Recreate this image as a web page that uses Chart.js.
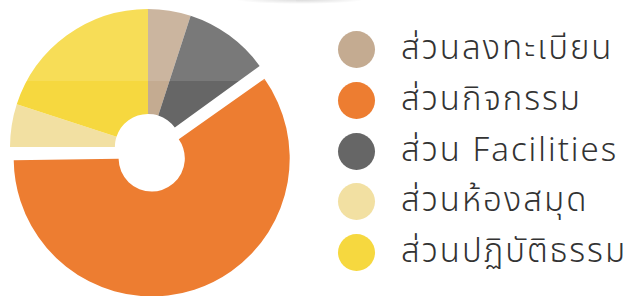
<!DOCTYPE html>
<html>
<head>
<meta charset="utf-8">
<script src="https://cdn.jsdelivr.net/npm/chart.js@4.4.1/dist/chart.umd.min.js"></script>
<style>
  html, body { margin: 0; padding: 0; background: #fff; }
  body { width: 637px; height: 296px; position: relative; overflow: hidden; }
  #pie { position: absolute; left: 0; top: 0; }
  .shade { position: absolute; left: 235px; top: -5px; width: 130px; height: 9px;
           background: radial-gradient(ellipse at center, rgba(0,0,0,0.16), rgba(0,0,0,0) 70%); }
  #legend { position: absolute; left: 338px; top: 31px; margin: 0; padding: 0; list-style: none; }
  #legend li { display: flex; align-items: center; height: 37px; margin-bottom: 13.8px; }
  #legend .dot { width: 37px; height: 37px; border-radius: 50%; margin-right: 26px; flex: none; }
  #legend .txt { font-family: "Noto Sans Thai", "Noto Sans Thai UI", "Loma", "Garuda", "Noto Sans", sans-serif;
                 font-weight: 300; font-size: 33px; letter-spacing: 2px; color: #333; white-space: nowrap; line-height: 37px; }
</style>
</head>
<body>
<div class="shade"></div>
<canvas id="pie" width="296" height="296"></canvas>
<ul id="legend"></ul>
<script>
// slices in drawing order, clockwise from 12 o'clock
const labels = ['ส่วนลงทะเบียน', 'ส่วน Facilities', 'ส่วนกิจกรรม', 'ส่วนห้องสมุด', 'ส่วนปฏิบัติธรรม'];
const shares = [5, 10, 60, 5, 20];
const colors = ['#C4AB91', '#666666', '#ED7D31', '#F2E0A2', '#F6D83F'];
const explode = [0, 0, 48, 0, 0];
// legend lists the slices in a different order than they are drawn
const legendOrder = [0, 2, 1, 3, 4];

// chart.js pushes a big exploded slice out by offset/4 but also grows it by the same amount,
// the original just slides it out, so take the growth back off
const slideOnly = {
    id: 'slideOnly',
    afterDatasetsUpdate(chart) {
        chart.getDatasetMeta(0).data.forEach((arc, i) => {
            const circ = arc.endAngle - arc.startAngle;
            const grow = (explode[i] / 4) * (1 - Math.sin(Math.min(Math.PI, circ)));
            arc.outerRadius -= grow;
            arc.innerRadius -= grow;
        });
    }
};

// light glossy band over the top of the pie
const gloss = {
    id: 'gloss',
    afterDatasetsDraw(chart) {
        const ctx = chart.ctx;
        ctx.save();
        ctx.fillStyle = 'rgba(255,255,255,0.13)';
        ctx.fillRect(0, 0, chart.width, 81);
        ctx.restore();
    }
};

// html legend so the dots and text can sit where the original has them
const htmlLegend = {
    id: 'htmlLegend',
    afterUpdate(chart) {
        const ul = document.getElementById('legend');
        ul.innerHTML = '';
        const items = chart.options.plugins.legend.labels.generateLabels(chart);
        legendOrder.forEach(i => {
            const item = items[i];
            const li = document.createElement('li');
            const dot = document.createElement('span');
            dot.className = 'dot';
            dot.style.background = item.fillStyle;
            const txt = document.createElement('span');
            txt.className = 'txt';
            txt.textContent = item.text;
            li.appendChild(dot);
            li.appendChild(txt);
            ul.appendChild(li);
        });
    }
};

const ctx = document.getElementById('pie').getContext('2d');
new Chart(ctx, {
    type: 'doughnut',
    data: {
        labels: labels,
        datasets: [{
            data: shares,
            backgroundColor: colors,
            borderWidth: 0,
            offset: explode
        }]
    },
    options: {
        responsive: false,
        animation: false,
        events: [],
        radius: 138,
        cutout: '24%',
        layout: { padding: { bottom: 2 } },
        plugins: {
            legend: { display: false },
            tooltip: { enabled: false }
        }
    },
    plugins: [slideOnly, gloss, htmlLegend]
});
</script>
</body>
</html>
